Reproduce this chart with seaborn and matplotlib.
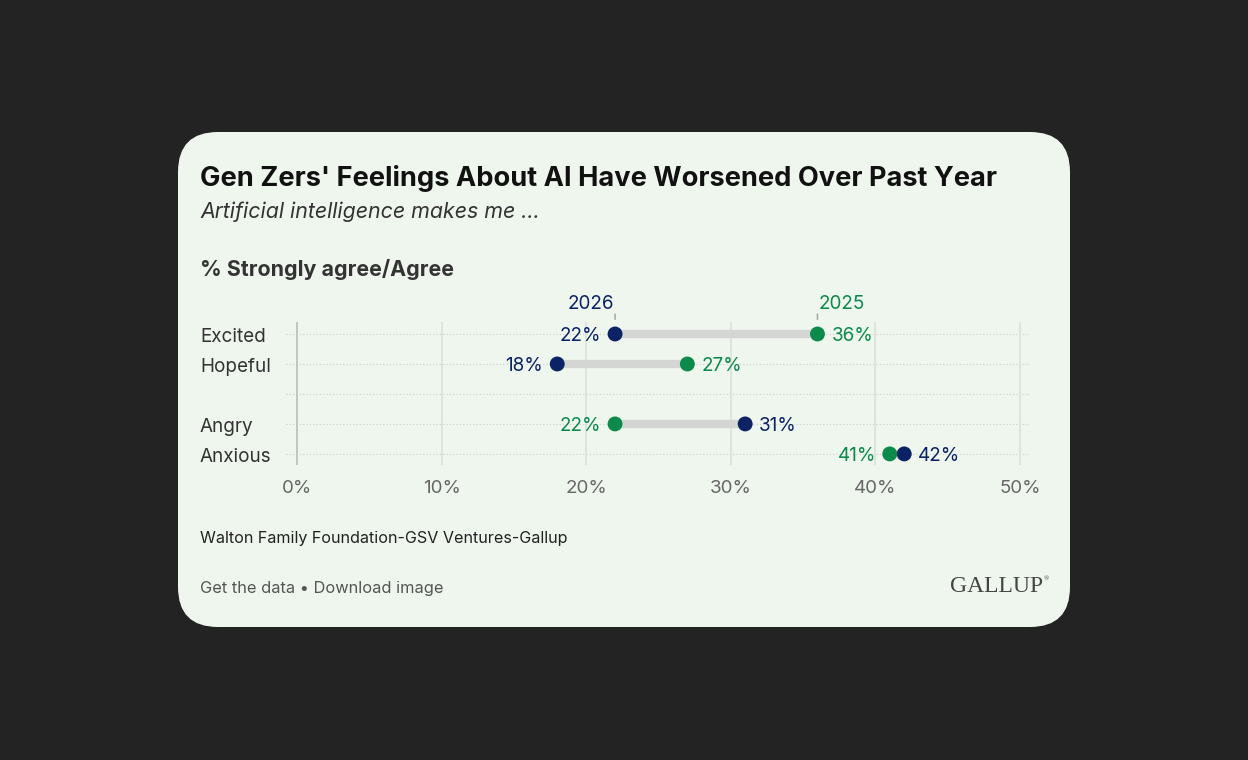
import matplotlib
matplotlib.use("Agg")
import matplotlib.pyplot as plt
import matplotlib.transforms as mtransforms
from matplotlib.patches import FancyBboxPatch
import seaborn as sns
import pandas as pd

# values
categories = ["Excited", "Hopeful", "Angry", "Anxious"]
row_pos = [0, 1, 3, 4]
pct_2026 = [22, 18, 31, 42]
pct_2025 = [36, 27, 22, 41]
x_ticks = [0, 10, 20, 30, 40, 50]
x_tick_labels = ["0%", "10%", "20%", "30%", "40%", "50%"]

NAVY = "#0b2265"
GREEN = "#0b8a4b"
BAR = "#d3d6d3"
CARD = "#eff6ee"

sns.set_theme(style="white")
plt.rcParams["font.family"] = ["Inter", "DejaVu Sans"]

df = pd.DataFrame({
    "feeling": categories * 2,
    "pos": row_pos * 2,
    "pct": pct_2026 + pct_2025,
    "year": ["2026"] * 4 + ["2025"] * 4,
})

fig = plt.figure(figsize=(12.48, 7.6), dpi=100)
fig.patch.set_facecolor("#232323")

# rounded card in pixel coords
card = FancyBboxPatch((178, 760 - 627), 892, 495,
                      boxstyle="round,pad=0,rounding_size=40",
                      transform=mtransforms.IdentityTransform(),
                      facecolor=CARD, edgecolor="none", zorder=-5)
fig.patches.append(card)

ax = fig.add_axes([286 / 1248, 1 - 465 / 760, 744 / 1248, 143 / 760])
ax.set_facecolor("none")
ax.set_zorder(2)

# connecting bars
for p, a, b in zip(row_pos, pct_2026, pct_2025):
    ax.plot([a, b], [p, p], color=BAR, lw=6, solid_capstyle="butt", zorder=2)

sns.scatterplot(data=df, x="pct", y="pos", hue="year",
                palette={"2026": NAVY, "2025": GREEN},
                s=115, edgecolor="none", legend=False, zorder=3, ax=ax)

# dotted row guides
for yy in range(5):
    ax.axhline(yy, color="#c9cec9", lw=0.8, ls=(0, (1, 2)), zorder=0)
for xx in x_ticks:
    ax.axvline(xx, color="#bfc2bf" if xx == 0 else "#dde1dd", lw=1.3, zorder=1)

ax.set_xlim(-0.76, 50.7)
ax.set_ylim(4.37, -0.4)
ax.set_xticks(x_ticks)
ax.set_xticklabels(x_tick_labels)
ax.set_yticks([])
ax.tick_params(axis="x", length=0, pad=11, labelsize=13.5, labelcolor="#666666")
ax.set_xlabel("")
ax.set_ylabel("")
for s in ax.spines.values():
    s.set_visible(False)

# category labels
lab_tr = mtransforms.blended_transform_factory(fig.transFigure, ax.transData)
for name, p in zip(categories, row_pos):
    ax.annotate(name, (200 / 1248, p), xycoords=lab_tr, xytext=(0, -2),
                textcoords="offset points", ha="left", va="center",
                fontsize=13.6, color="#333333", annotation_clip=False)

# value labels: lower value left, higher value right
for p, a, b in zip(row_pos, pct_2026, pct_2025):
    for v, c in ((a, NAVY), (b, GREEN)):
        other = b if v == a else a
        if v < other:
            off, ha = -10, "right"
        else:
            off, ha = 10, "left"
        ax.annotate(f"{v}%", (v, p), xytext=(off, -1.5), textcoords="offset points",
                    ha=ha, va="center", fontsize=13.6, color=c)

# year markers above the first row
for v, c, txt, ha in ((pct_2026[0], NAVY, "2026", "right"),
                      (pct_2025[0], GREEN, "2025", "left")):
    ax.annotate("", xy=(v, -0.4), xytext=(v, -0.75),
                arrowprops=dict(arrowstyle="-", color="#aaaaaa", lw=1.2),
                annotation_clip=False)
    ax.text(v + (0.08 if ha == "left" else -0.08), -1.0, txt, ha=ha, va="center",
            fontsize=13.6, color=c, clip_on=False)

# titles and notes
fig.text(200 / 1248, 1 - 178 / 760, "Gen Zers' Feelings About AI Have Worsened Over Past Year",
         fontsize=19.6, fontweight="bold", color="#111111", va="center")
fig.text(200 / 1248, 1 - 212 / 760, "Artificial intelligence makes me ...",
         fontsize=15.4, style="italic", color="#333333", va="center")
fig.text(200 / 1248, 1 - 270 / 760, "% Strongly agree/Agree",
         fontsize=15.4, fontweight="bold", color="#333333", va="center")
fig.text(200 / 1248, 1 - 539 / 760, "Walton Family Foundation-GSV Ventures-Gallup",
         fontsize=11.6, color="#222222", va="center")
fig.text(200 / 1248, 1 - 589 / 760, "Get the data \u2022 Download image",
         fontsize=11.8, color="#555555", va="center")
fig.text(1043 / 1248, 1 - 587 / 760, "GALLUP", fontsize=17, color="#444444",
         ha="right", va="center", family=["Liberation Serif", "DejaVu Serif"])
fig.text(1046 / 1248, 1 - 579 / 760, "\u00ae", fontsize=5, color="#444444",
         ha="center", va="center", family=["Liberation Serif", "DejaVu Serif"])

fig.savefig("out.png", dpi=100, facecolor=fig.get_facecolor())
